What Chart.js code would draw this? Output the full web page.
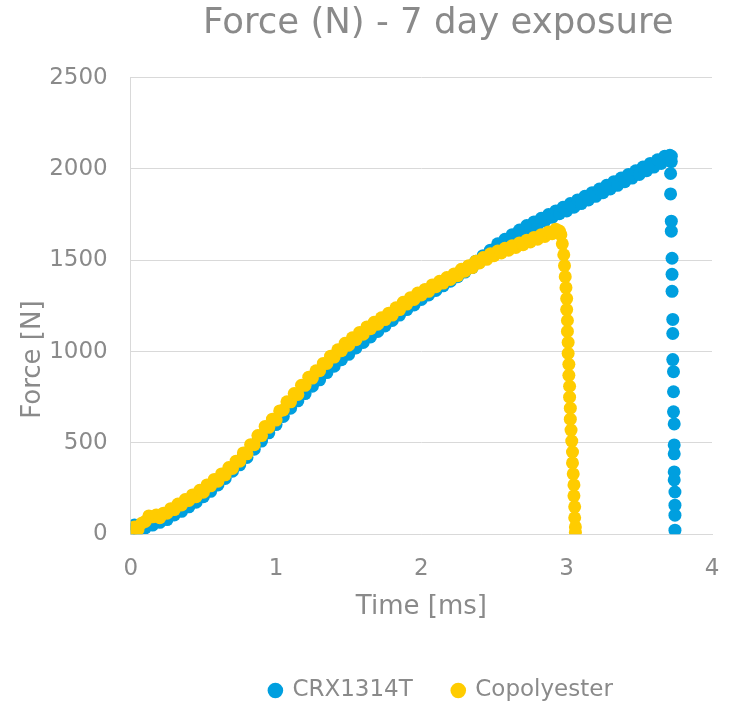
<!DOCTYPE html>
<html>
<head>
<meta charset="utf-8">
<script src="https://cdn.jsdelivr.net/npm/chart.js@4/dist/chart.umd.min.js"></script>
<style>
  html, body { margin: 0; padding: 0; background: #fff; }
  #wrap { width: 730px; height: 704px; }
</style>
</head>
<body>
<div id="wrap"><canvas id="chart" width="730" height="704"></canvas></div>
<script>
// values
var crxTime = [0, 0.025, 0.05, 0.075, 0.1, 0.125, 0.15, 0.175, 0.2, 0.225, 0.25, 0.275, 0.3, 0.325, 0.35, 0.375, 0.4, 0.425, 0.45, 0.475,
  0.5, 0.525, 0.55, 0.575, 0.6, 0.625, 0.65, 0.675, 0.7, 0.725, 0.75, 0.775, 0.8, 0.825, 0.85, 0.875, 0.9, 0.925, 0.95, 0.975,
  1, 1.025, 1.05, 1.075, 1.1, 1.125, 1.15, 1.175, 1.2, 1.225, 1.25, 1.275, 1.3, 1.325, 1.35, 1.375, 1.4, 1.425, 1.45, 1.475,
  1.5, 1.525, 1.55, 1.575, 1.6, 1.625, 1.65, 1.675, 1.7, 1.725, 1.75, 1.775, 1.8, 1.825, 1.85, 1.875, 1.9, 1.925, 1.95, 1.975,
  2, 2.025, 2.05, 2.075, 2.1, 2.125, 2.15, 2.175, 2.2, 2.225, 2.25, 2.275, 2.3, 2.325, 2.35, 2.375, 2.4, 2.425, 2.45, 2.475,
  2.5, 2.525, 2.55, 2.575, 2.6, 2.625, 2.65, 2.675, 2.7, 2.725, 2.75, 2.775, 2.8, 2.825, 2.85, 2.875, 2.9, 2.925, 2.95, 2.975,
  3, 3.025, 3.05, 3.075, 3.1, 3.125, 3.15, 3.175, 3.2, 3.225, 3.25, 3.275, 3.3, 3.325, 3.35, 3.375, 3.4, 3.425, 3.45, 3.475,
  3.5, 3.525, 3.55, 3.575, 3.6, 3.625, 3.65, 3.675, 3.7, 3.71, 3.72, 3.72,
  3.715, 3.715, 3.72, 3.72, 3.725, 3.725, 3.725, 3.73, 3.73, 3.73, 3.735, 3.735, 3.735, 3.74, 3.74, 3.74,
  3.74, 3.74, 3.745, 3.745, 3.745, 3.745];
var crxForce = [25, 50, 20, 45, 35, 60, 50, 75, 65, 95, 80, 110, 105, 135, 125, 160, 150, 185, 175, 215,
  205, 245, 235, 275, 270, 310, 305, 350, 345, 385, 380, 425, 420, 465, 465, 510, 510, 555, 555, 600,
  600, 645, 645, 690, 690, 730, 730, 770, 770, 810, 810, 850, 845, 885, 885, 920, 920, 955, 955, 990,
  985, 1020, 1020, 1050, 1050, 1080, 1080, 1110, 1110, 1140, 1140, 1170, 1170, 1200, 1200, 1230, 1230, 1260, 1255, 1285,
  1285, 1315, 1310, 1340, 1335, 1365, 1360, 1390, 1385, 1415, 1410, 1440, 1435, 1465, 1460, 1495, 1490, 1525, 1520, 1555,
  1545, 1590, 1575, 1615, 1600, 1640, 1625, 1665, 1650, 1690, 1675, 1710, 1695, 1730, 1715, 1750, 1735, 1770, 1755, 1790,
  1770, 1810, 1790, 1830, 1810, 1850, 1830, 1870, 1850, 1890, 1870, 1910, 1890, 1930, 1910, 1950, 1930, 1970, 1950, 1990,
  1970, 2010, 1990, 2030, 2010, 2050, 2030, 2070, 2050, 2075, 2070, 2040,
  1975, 1863, 1714, 1659, 1511, 1423, 1330, 1176, 1099, 956, 890, 780, 670, 604, 489, 440,
  341, 297, 231, 159, 104, 22];

var copTime = [0, 0.025, 0.05, 0.075, 0.1, 0.125, 0.15, 0.175, 0.2, 0.225, 0.25, 0.275, 0.3, 0.325, 0.35, 0.375, 0.4, 0.425, 0.45, 0.475,
  0.5, 0.525, 0.55, 0.575, 0.6, 0.625, 0.65, 0.675, 0.7, 0.725, 0.75, 0.775, 0.8, 0.825, 0.85, 0.875, 0.9, 0.925, 0.95, 0.975,
  1, 1.025, 1.05, 1.075, 1.1, 1.125, 1.15, 1.175, 1.2, 1.225, 1.25, 1.275, 1.3, 1.325, 1.35, 1.375, 1.4, 1.425, 1.45, 1.475,
  1.5, 1.525, 1.55, 1.575, 1.6, 1.625, 1.65, 1.675, 1.7, 1.725, 1.75, 1.775, 1.8, 1.825, 1.85, 1.875, 1.9, 1.925, 1.95, 1.975,
  2, 2.025, 2.05, 2.075, 2.1, 2.125, 2.15, 2.175, 2.2, 2.225, 2.25, 2.275, 2.3, 2.325, 2.35, 2.375, 2.4, 2.425, 2.45, 2.475,
  2.5, 2.525, 2.55, 2.575, 2.6, 2.625, 2.65, 2.675, 2.7, 2.725, 2.75, 2.775, 2.8, 2.825, 2.85, 2.875, 2.9, 2.925, 2.95, 2.96,
  2.97, 2.98, 2.985, 2.99, 2.995, 3, 3, 3.005, 3.005, 3.01, 3.01, 3.015, 3.015, 3.02, 3.02, 3.025, 3.025, 3.03, 3.035, 3.04,
  3.04, 3.045, 3.05, 3.05, 3.055, 3.055, 3.06, 3.06];
var copForce = [10, 40, 25, 60, 70, 100, 95, 105, 90, 115, 115, 140, 135, 165, 160, 190, 185, 215, 205, 240,
  230, 270, 265, 300, 290, 330, 325, 365, 360, 400, 400, 445, 440, 490, 490, 540, 540, 590, 585, 630,
  625, 675, 680, 725, 725, 770, 765, 815, 815, 860, 855, 895, 895, 935, 935, 975, 970, 1010, 1005, 1045,
  1035, 1075, 1065, 1105, 1095, 1135, 1125, 1160, 1150, 1185, 1175, 1210, 1200, 1240, 1230, 1270, 1260, 1295, 1285, 1320,
  1310, 1340, 1330, 1365, 1355, 1385, 1375, 1405, 1395, 1425, 1415, 1450, 1440, 1470, 1460, 1495, 1485, 1515, 1505, 1535,
  1525, 1550, 1540, 1565, 1555, 1580, 1570, 1595, 1585, 1610, 1600, 1625, 1615, 1640, 1630, 1655, 1645, 1670, 1660, 1640,
  1590, 1530, 1470, 1410, 1350, 1290, 1230, 1170, 1110, 1050, 990, 930, 870, 810, 750, 690, 630, 570, 510, 450,
  390, 330, 270, 210, 150, 90, 40, 10];

var xTicks = [0, 1, 2, 3, 4];
var yTicks = [0, 500, 1000, 1500, 2000, 2500];

function toPoints(xs, ys) {
  return xs.map(function (x, i) { return { x: x, y: ys[i] }; });
}

var textColor = '#8a8a8a';
var gridColor = '#d9d9d9';
var fontFamily = "'DejaVu Sans', sans-serif";

// nudge title and legend, like the original
var shiftBoxes = {
  id: 'shiftBoxes',
  afterLayout: function (chart) {
    var t = chart.titleBlock, l = chart.legend;
    if (t) { t.left += 17; t.right += 17; }
    if (l) { l.left += 20; l.right += 20; l.top += 16; l.bottom += 16; }
  }
};

var ctx = document.getElementById('chart').getContext('2d');
new Chart(ctx, {
  type: 'scatter',
  data: {
    datasets: [
      {
        label: 'CRX1314T',
        data: toPoints(crxTime, crxForce),
        backgroundColor: '#009fdf',
        borderColor: '#009fdf',
        pointRadius: 6.5,
        borderWidth: 0,
        order: 1
      },
      {
        label: 'Copolyester',
        data: toPoints(copTime, copForce),
        backgroundColor: '#ffcc00',
        borderColor: '#ffcc00',
        pointRadius: 6.5,
        borderWidth: 0,
        order: 0
      }
    ]
  },
  options: {
    responsive: false,
    animation: false,
    layout: { padding: { left: 14, right: 0, top: 0, bottom: 8 } },
    scales: {
      x: {
        type: 'linear',
        min: xTicks[0],
        max: xTicks[xTicks.length - 1],
        afterBuildTicks: function (axis) { axis.ticks = xTicks.map(function (v) { return { value: v }; }); },
        afterFit: function (axis) { axis.paddingRight = 18; },
        grid: { display: false, drawTicks: false },
        border: { display: true, color: gridColor, width: 1 },
        ticks: { color: textColor, font: { family: fontFamily, size: 23 }, padding: 21,
          callback: function (v) { return String(v); } },
        title: {
          display: true,
          text: 'Time [ms]',
          color: textColor,
          font: { family: fontFamily, size: 26 },
          padding: { top: -12, bottom: 0 }
        }
      },
      y: {
        type: 'linear',
        min: yTicks[0],
        max: yTicks[yTicks.length - 1],
        afterBuildTicks: function (axis) { axis.ticks = yTicks.map(function (v) { return { value: v }; }); },
        grid: { color: gridColor, lineWidth: 1, drawTicks: false },
        border: { display: true, color: gridColor, width: 1 },
        ticks: { color: textColor, font: { family: fontFamily, size: 23 }, padding: 23,
          callback: function (v) { return String(v); } },
        title: {
          display: true,
          text: 'Force [N]' + '\u00a0'.repeat(13),
          color: textColor,
          font: { family: fontFamily, size: 26 },
          padding: { top: 4, bottom: -23 }
        }
      }
    },
    plugins: {
      title: {
        display: true,
        text: 'Force (N) - 7 day exposure',
        color: textColor,
        fullSize: false,
        font: { family: fontFamily, size: 35.5, weight: 'normal' },
        padding: { top: 2, bottom: 33 }
      },
      legend: {
        position: 'bottom',
        fullSize: false,
        labels: {
          usePointStyle: true,
          pointStyle: 'circle',
          boxWidth: 11,
          boxHeight: 11,
          color: textColor,
          font: { family: fontFamily, size: 23 },
          padding: 40,
          sort: function (a, b) { return a.datasetIndex - b.datasetIndex; }
        }
      },
      tooltip: { enabled: false }
    }
  },
  plugins: [shiftBoxes]
});
</script>
</body>
</html>
